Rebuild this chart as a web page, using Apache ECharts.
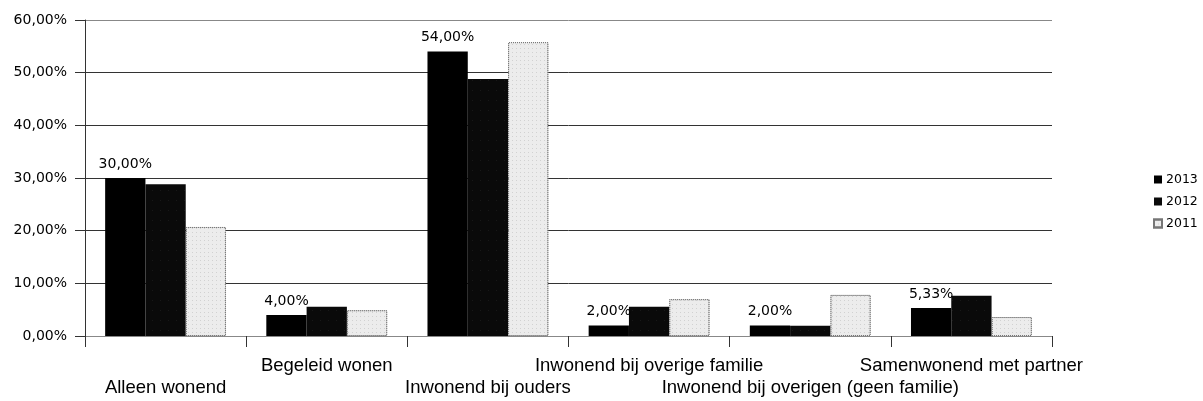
<!DOCTYPE html>
<html>
<head>
<meta charset="utf-8">
<script src="https://cdn.jsdelivr.net/npm/echarts@6/dist/echarts.min.js"></script>
<style>html,body{margin:0;padding:0;background:#fff}#c{width:1203px;height:401px}</style>
</head>
<body>
<div id="c"></div>
<script>
const categories = ['Alleen wonend', 'Begeleid wonen', 'Inwonend bij ouders', 'Inwonend bij overige familie', 'Inwonend bij overigen (geen familie)', 'Samenwonend met partner'];
const years = ['2013', '2012', '2011'];
const values2013 = [30.00, 4.00, 54.00, 2.00, 2.00, 5.33];
const values2012 = [28.8, 5.55, 48.8, 5.55, 1.95, 7.65];
const values2011 = [20.7, 4.9, 55.8, 7.0, 7.8, 3.6];
const yTicks = [0, 10, 20, 30, 40, 50, 60];

const fmt = v => v.toFixed(2).replace('.', ',') + '%';
const chart = echarts.init(document.getElementById('c'));
chart.setOption({
  animation: false,
  backgroundColor: '#fff',
  grid: { left: 85, right: 151, top: 20, bottom: 65, containLabel: false },
  legend: {
    orient: 'vertical', left: 1148, top: 168, itemGap: 9, itemWidth: 8, itemHeight: 8,
    icon: 'rect',
    textStyle: { fontFamily: 'DejaVu Sans', fontSize: 12.5, color: '#000', padding: [0, 0, 0, -1] },
    data: years
  },
  xAxis: {
    type: 'category', data: categories,
    axisLine: { show: true, lineStyle: { color: '#888', width: 1 } },
    axisTick: { show: true, length: 11, lineStyle: { color: '#333' } },
    axisLabel: {
      interval: 0, margin: 19, color: '#000',
      fontFamily: 'Liberation Sans', fontSize: 18.5, lineHeight: 22,
      formatter: (v, i) => (i % 2 === 0 ? '\n' + v : v)
    }
  },
  yAxis: {
    type: 'value', min: yTicks[0], max: yTicks[yTicks.length - 1], interval: 10,
    axisLine: { show: true, lineStyle: { color: '#333', width: 1 } },
    axisTick: { show: true, length: 10, lineStyle: { color: '#333' } },
    axisLabel: { margin: 18, color: '#000', fontFamily: 'DejaVu Sans', fontSize: 14, formatter: fmt },
    splitLine: { show: true, lineStyle: { color: ['#888', '#333', '#333', '#333', '#333', '#333', '#888'], width: 1 } }
  },
  series: [
    {
      name: years[0], type: 'bar', data: values2013, barGap: '0%', barCategoryGap: '25%',
      itemStyle: { color: '#000' },
      label: { show: true, position: 'top', distance: 7, color: '#000', fontFamily: 'DejaVu Sans', fontSize: 14, formatter: p => fmt(p.value) }
    },
    {
      name: years[1], type: 'bar', data: values2012, barGap: '0%', barCategoryGap: '25%',
      itemStyle: {
        color: '#0a0a0a',
        decal: { symbol: 'rect', symbolSize: 0.35, color: 'rgba(255,255,255,0.35)', dashArrayX: [[1, 7]], dashArrayY: [1, 9] }
      }
    },
    {
      name: years[2], type: 'bar', data: values2011, barGap: '0%', barCategoryGap: '25%',
      itemStyle: {
        color: '#ececec', borderColor: '#777', borderType: 'dotted', borderWidth: 1,
        decal: { symbol: 'rect', symbolSize: 0.5, color: 'rgba(0,0,0,0.45)', dashArrayX: [[1, 3]], dashArrayY: [1, 3] }
      }
    }
  ]
});
</script>
</body>
</html>
